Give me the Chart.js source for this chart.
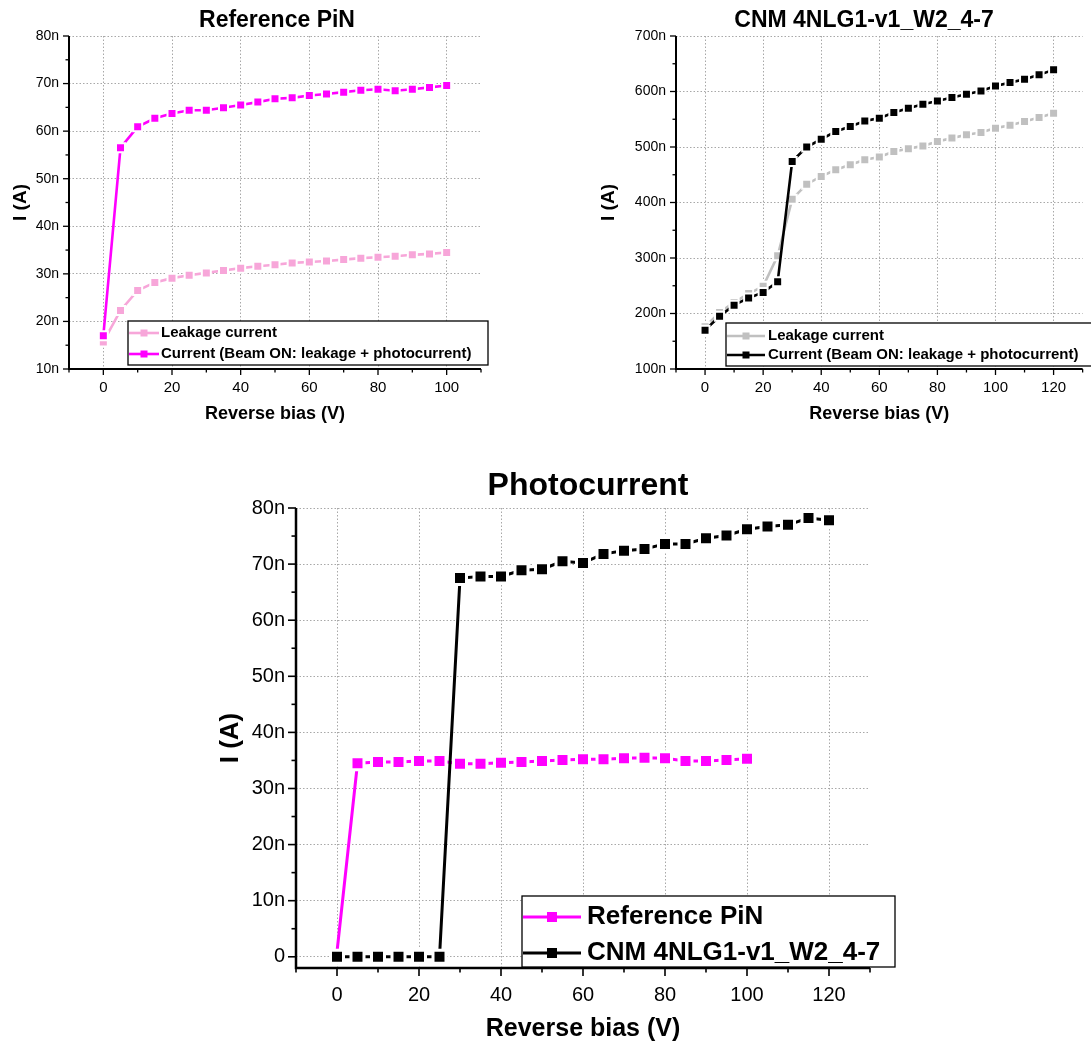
<!DOCTYPE html>
<html lang="en">
<head>
<meta charset="UTF-8">
<title>Photocurrent</title>
<script src="https://cdn.jsdelivr.net/npm/chart.js@4.4.1/dist/chart.umd.min.js"></script>
<style>
    body { margin: 0; background: #fff; }
    .page { position: relative; width: 1091px; height: 1044px; overflow: hidden; }
    .panel { position: absolute; }
</style>
</head>
<body>
<div class="page">
    <div class="panel" style="left:0;top:0;width:500px;height:430px"><canvas id="pinChart"></canvas></div>
    <div class="panel" style="left:590px;top:0;width:501px;height:430px"><canvas id="cnmChart"></canvas></div>
    <div class="panel" style="left:200px;top:450px;width:700px;height:594px"><canvas id="photoChart"></canvas></div>
</div>
<script>
// reverse bias (V)
const biasPin = [0, 5, 10, 15, 20, 25, 30, 35, 40, 45, 50, 55, 60, 65, 70, 75, 80, 85, 90, 95, 100];
const biasCnm = [0, 5, 10, 15, 20, 25, 30, 35, 40, 45, 50, 55, 60, 65, 70, 75, 80, 85, 90, 95, 100, 105, 110, 115, 120];

// currents in nA
const pinLeakage = [15.7, 22.3, 26.5, 28.2, 29.1, 29.7, 30.2, 30.7, 31.2, 31.6, 31.9, 32.3, 32.5, 32.7, 33.0, 33.3, 33.5, 33.7, 34.0, 34.2, 34.5];
const pinBeamOn = [17.0, 56.5, 60.9, 62.7, 63.7, 64.4, 64.4, 64.9, 65.5, 66.1, 66.8, 67.0, 67.5, 67.8, 68.2, 68.6, 68.8, 68.5, 68.8, 69.2, 69.6];

const cnmLeakage = [176, 202, 220, 236, 249, 304, 406, 433, 447, 459, 468, 477, 482, 492, 497, 502, 510, 516, 522, 526, 534, 539, 546, 553, 561];
const cnmBeamOn = [170, 195, 215, 228, 238, 257, 474, 500, 514, 528, 537, 547, 552, 562, 570, 577, 583, 589, 595, 601, 610, 616, 622, 630, 639];

const photoPin = [0.9, 34.5, 34.7, 34.7, 34.9, 34.9, 34.4, 34.4, 34.6, 34.7, 34.9, 35.1, 35.2, 35.2, 35.4, 35.5, 35.4, 34.9, 34.9, 35.1, 35.3];
const photoCnm = [0, 0, 0, 0, 0, 0, 67.5, 67.8, 67.8, 68.9, 69.1, 70.5, 70.2, 71.8, 72.4, 72.7, 73.6, 73.6, 74.6, 75.1, 76.2, 76.7, 77.0, 78.2, 77.8];

// tick labels
const pinTicksX = [0, 20, 40, 60, 80, 100];
const pinTicksY = [10, 20, 30, 40, 50, 60, 70, 80];
const cnmTicksX = [0, 20, 40, 60, 80, 100, 120];
const cnmTicksY = [100, 200, 300, 400, 500, 600, 700];
const photoTicksX = [0, 20, 40, 60, 80, 100, 120];
const photoTicksY = [0, 10, 20, 30, 40, 50, 60, 70, 80];

const FONT = '"Liberation Sans", Arial, sans-serif';
Chart.defaults.font.family = FONT;
Chart.defaults.color = '#000';

// title drawn over the plot
const panelTitle = {
    id: 'panelTitle',
    afterDraw(chart, args, opts) {
        const ctx = chart.ctx;
        ctx.save();
        ctx.font = 'bold ' + opts.size + 'px ' + FONT;
        ctx.fillStyle = '#000';
        ctx.textAlign = 'center';
        ctx.textBaseline = 'middle';
        ctx.fillText(opts.text, opts.x, opts.y);
        ctx.restore();
    }
};

// axis lines with major / minor ticks, Origin style
const originAxes = {
    id: 'originAxes',
    afterDraw(chart, args, opts) {
        const { ctx, chartArea } = chart;
        ctx.save();
        ctx.strokeStyle = '#000';
        ctx.lineWidth = opts.width;
        ['x', 'y'].forEach(id => {
            const scale = chart.scales[id];
            const majors = scale.ticks.map(t => t.value);
            const step = majors[1] - majors[0];
            const minors = [];
            for (let v = majors[0] - step / 2; v <= scale.max + 1e-9; v += step) {
                if (v >= scale.min - 1e-9) minors.push(v);
            }
            const draw = (v, len) => {
                const p = scale.getPixelForValue(v);
                ctx.beginPath();
                if (id === 'x') {
                    ctx.moveTo(p, chartArea.bottom);
                    ctx.lineTo(p, chartArea.bottom + len);
                } else {
                    ctx.moveTo(chartArea.left - len, p);
                    ctx.lineTo(chartArea.left, p);
                }
                ctx.stroke();
            };
            majors.forEach(v => draw(v, opts.major));
            minors.forEach(v => draw(v, opts.minor));
        });
        ctx.lineWidth = opts.axis;
        ctx.beginPath();
        ctx.moveTo(chartArea.left, chartArea.top);
        ctx.lineTo(chartArea.left, chartArea.bottom);
        ctx.lineTo(chartArea.right, chartArea.bottom);
        ctx.stroke();
        ctx.restore();
    }
};

// boxed legend inside the plot
const boxLegend = {
    id: 'boxLegend',
    afterDraw(chart, args, opts) {
        const ctx = chart.ctx;
        ctx.save();
        ctx.fillStyle = '#fff';
        ctx.fillRect(opts.left, opts.top, opts.right - opts.left, opts.bottom - opts.top);
        ctx.strokeStyle = '#000';
        ctx.lineWidth = 1.3;
        ctx.strokeRect(opts.left, opts.top, opts.right - opts.left, opts.bottom - opts.top);
        ctx.font = 'bold ' + opts.size + 'px ' + FONT;
        ctx.textBaseline = 'middle';
        chart.data.datasets.forEach((ds, i) => {
            const y = opts.rows[i];
            ctx.strokeStyle = ds.borderColor;
            ctx.lineWidth = ds.borderWidth;
            ctx.beginPath();
            ctx.moveTo(opts.lineFrom, y);
            ctx.lineTo(opts.lineTo, y);
            ctx.stroke();
            const mid = (opts.lineFrom + opts.lineTo) / 2;
            ctx.fillStyle = ds.borderColor;
            ctx.fillRect(mid - opts.marker / 2, y - opts.marker / 2, opts.marker, opts.marker);
            ctx.fillStyle = '#000';
            ctx.fillText(ds.label, opts.textX, y);
        });
        ctx.restore();
    }
};

function series(label, xs, ys, color, width, side, gap, order, hideFirst) {
    return {
        label: label,
        data: xs.map((x, i) => ({ x: x, y: ys[i] })),
        borderColor: color,
        backgroundColor: color,
        borderWidth: width,
        pointStyle: 'rect',
        pointRadius: ctx => (hideFirst && ctx.dataIndex === 0) ? 0 : (side + 2 * gap) / Math.SQRT2,
        pointBackgroundColor: color,
        pointBorderColor: '#fff',
        pointBorderWidth: 2 * gap,
        tension: 0,
        order: order
    };
}

function axis(cfg) {
    return {
        type: 'linear',
        min: cfg.min,
        max: cfg.max,
        afterBuildTicks: scale => { scale.ticks = cfg.ticks.map(v => ({ value: v })); },
        afterFit: scale => {
            if (cfg.width) scale.width = cfg.width;
            if (cfg.height) scale.height = cfg.height;
        },
        grid: { color: '#a8a8a8', lineWidth: 1, drawTicks: false },
        border: { display: false, dash: [1.5, 2] },
        ticks: {
            padding: cfg.pad,
            font: { size: cfg.tickSize },
            callback: cfg.label
        },
        title: {
            display: true,
            text: cfg.title,
            font: { size: cfg.titleSize, weight: 'bold' },
            padding: cfg.titlePad
        }
    };
}

function makeChart(id, datasets, o) {
    return new Chart(document.getElementById(id), {
        type: 'line',
        data: { datasets: datasets },
        options: {
            responsive: true,
            maintainAspectRatio: false,
            animation: false,
            events: [],
            layout: { padding: o.padding },
            scales: { x: o.x, y: o.y },
            plugins: {
                legend: { display: false },
                tooltip: { enabled: false },
                panelTitle: o.title,
                originAxes: o.axes,
                boxLegend: o.legend
            }
        },
        plugins: [originAxes, panelTitle, boxLegend]
    });
}

const nanoLabel = v => v + 'n';
const nanoLabelZero = v => v === 0 ? '0' : v + 'n';

makeChart('pinChart', [
    series('Leakage current', biasPin, pinLeakage, '#f7a6d9', 2.6, 7, 1, 2),
    series('Current (Beam ON: leakage + photocurrent)', biasPin, pinBeamOn, '#ff00ff', 2.6, 7, 1, 1)
], {
    padding: { top: 36, left: 0, right: 19, bottom: 0 },
    x: axis({ min: -10, max: 110, ticks: pinTicksX, height: 61, pad: 10, tickSize: 15,
        title: 'Reverse bias (V)', titleSize: 18, titlePad: { top: 0, bottom: 5 } }),
    y: axis({ min: 10, max: 80, ticks: pinTicksY, width: 69, pad: 10, tickSize: 14, label: nanoLabel,
        title: 'I (A)', titleSize: 19, titlePad: { top: 9, bottom: 0 } }),
    title: { text: 'Reference PiN', size: 23, x: 277, y: 21 },
    axes: { width: 1.3, major: 6, minor: 3.5, axis: 2 },
    legend: { left: 128, top: 321, right: 488, bottom: 365, rows: [333, 354],
        lineFrom: 129, lineTo: 159, textX: 161, marker: 7, size: 15 }
});

makeChart('cnmChart', [
    series('Leakage current', biasCnm, cnmLeakage, '#c0c0c0', 2.6, 7, 1, 2),
    series('Current (Beam ON: leakage + photocurrent)', biasCnm, cnmBeamOn, '#000000', 2.6, 7, 1, 1)
], {
    padding: { top: 36, left: 0, right: 2, bottom: 0 },
    x: axis({ min: -10, max: 130, ticks: cnmTicksX, height: 61, pad: 10, tickSize: 15,
        title: 'Reverse bias (V)', titleSize: 18, titlePad: { top: 0, bottom: 5 } }),
    y: axis({ min: 100, max: 700, ticks: cnmTicksY, width: 86, pad: 10, tickSize: 14, label: nanoLabel,
        title: 'I (A)', titleSize: 19, titlePad: { top: 7, bottom: 0 } }),
    title: { text: 'CNM 4NLG1-v1_W2_4-7', size: 23, x: 274, y: 21 },
    axes: { width: 1.3, major: 6, minor: 3.5, axis: 2 },
    legend: { left: 136, top: 323, right: 505, bottom: 366, rows: [336, 355],
        lineFrom: 137, lineTo: 175, textX: 178, marker: 7, size: 15 }
});

makeChart('photoChart', [
    series('Reference PiN', biasPin, photoPin, '#ff00ff', 3, 10, 1.5, 2, true),
    series('CNM 4NLG1-v1_W2_4-7', biasCnm, photoCnm, '#000000', 3, 10, 1.5, 1)
], {
    padding: { top: 58, left: 0, right: 30, bottom: 0 },
    x: axis({ min: -10, max: 130, ticks: photoTicksX, height: 76, pad: 15, tickSize: 20,
        title: 'Reverse bias (V)', titleSize: 25, titlePad: { top: 0, bottom: 0 } }),
    y: axis({ min: -2, max: 80, ticks: photoTicksY, width: 96, pad: 11, tickSize: 20, label: nanoLabelZero,
        title: 'I (A)', titleSize: 26, titlePad: { top: 15, bottom: 0 } }),
    title: { text: 'Photocurrent', size: 32, x: 388, y: 36 },
    axes: { width: 1.6, major: 8, minor: 4.5, axis: 2.5 },
    legend: { left: 322, top: 446, right: 695, bottom: 517, rows: [467, 503],
        lineFrom: 323, lineTo: 381, textX: 387, marker: 10, size: 26 }
});
</script>
</body>
</html>
